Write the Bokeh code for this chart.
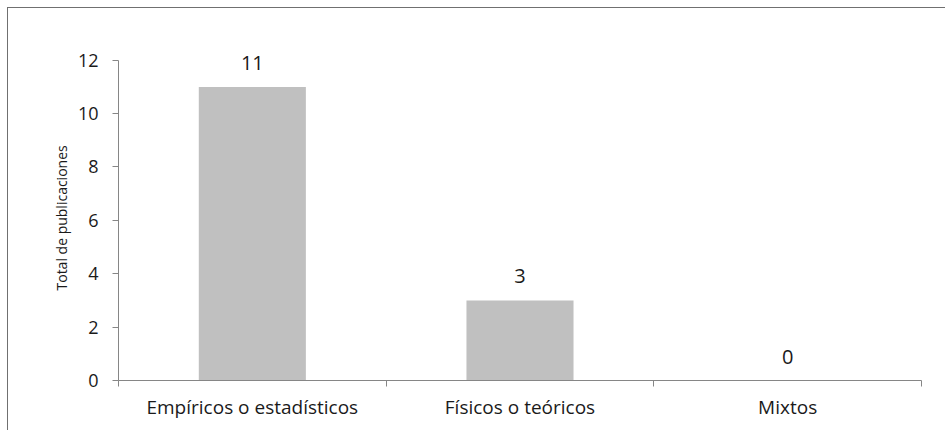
from bokeh.plotting import figure
from bokeh.models import ColumnDataSource, FixedTicker, LabelSet, Range1d, Title
from bokeh.core.properties import value
from bokeh.embed import file_html
from bokeh.resources import INLINE

categories = ["Empíricos o estadísticos", "Físicos o teóricos", "Mixtos"]
values = [11, 3, 0]
y_ticks = [0, 2, 4, 6, 8, 10, 12]
y_title = "Total de publicaciones"

xs = [i + 0.5 for i in range(len(categories))]
src = ColumnDataSource(dict(x=xs, top=values, lab=[str(v) for v in values]))

FONT = "Open Sans"
TXT = "#1a1a1a"
AX = "#868686"

p = figure(width=938, height=423, output_backend="svg", toolbar_location=None,
           x_range=Range1d(0, len(categories)), y_range=Range1d(0, 13),
           min_border_left=110, min_border_right=25, min_border_top=25, min_border_bottom=51)
p.styles = {"border-left": "1px solid #707070", "border-top": "1px solid #707070",
            "margin-left": "7px", "margin-top": "7px"}
p.outline_line_color = None
p.grid.visible = False

p.vbar(x="x", top="top", width=0.4, bottom=0, source=src, fill_color="#c0c0c0", line_color=None)

labels = LabelSet(x="x", y="top", text="lab", source=src, text_align="center",
                  text_baseline="alphabetic", y_offset=17, text_font=value(FONT),
                  text_font_size=value("20px"), text_color=TXT)
p.add_layout(labels)

xa = p.xaxis[0]
xa.ticker = FixedTicker(ticks=xs, minor_ticks=list(range(len(categories) + 1)))
xa.major_label_overrides = {x: c for x, c in zip(xs, categories)}
xa.major_tick_out = 0
xa.major_tick_in = 0
xa.minor_tick_out = 6
xa.minor_tick_in = 0
xa.minor_tick_line_color = AX
xa.axis_line_color = AX
xa.major_label_standoff = 7
xa.major_label_text_font = FONT
xa.major_label_text_font_size = "19px"
xa.major_label_text_color = TXT

ya = p.yaxis[0]
ya.bounds = (0, 12)
ya.ticker = FixedTicker(ticks=y_ticks)
ya.minor_tick_out = 0
ya.minor_tick_in = 0
ya.major_tick_out = 6
ya.major_tick_in = 0
ya.major_tick_line_color = AX
ya.axis_line_color = AX
ya.major_label_standoff = 14
ya.major_label_text_font = FONT
ya.major_label_text_font_size = "18px"
ya.major_label_text_color = TXT

yt = Title(text=y_title, align="left", offset=90, vertical_align="bottom", standoff=8,
           text_font=FONT, text_font_size="14px", text_font_style="normal", text_color=TXT)
p.add_layout(yt, "left")

open("out.html", "w").write(file_html(p, INLINE))
